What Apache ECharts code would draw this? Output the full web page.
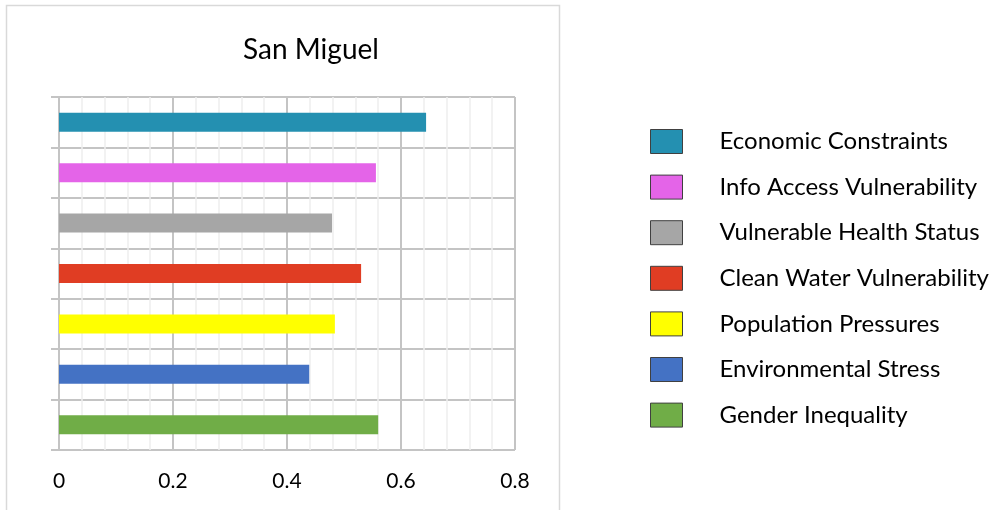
<!DOCTYPE html>
<html>
<head>
<meta charset="utf-8">
<script src="https://cdn.jsdelivr.net/npm/echarts@6/dist/echarts.min.js"></script>
<style>
  html, body { margin: 0; padding: 0; background: #fff; }
  #main { width: 1001px; height: 510px; }
</style>
</head>
<body>
<div id="main"></div>
<script>
// indicators, top to bottom as drawn
var indicators = ['Economic Constraints', 'Info Access Vulnerability', 'Vulnerable Health Status',
  'Clean Water Vulnerability', 'Population Pressures', 'Environmental Stress', 'Gender Inequality'];
var scores = [0.644, 0.556, 0.479, 0.530, 0.484, 0.439, 0.560];
var colors = ['#2490b1', '#e464e8', '#a6a6a6', '#e03d23', '#ffff00', '#4472c4', '#70ad47'];
var xTicks = [0, 0.2, 0.4, 0.6, 0.8];

var font = 'Lato, "Open Sans", sans-serif';
var chart = echarts.init(document.getElementById('main'));

// one series per indicator so each gets its own legend entry; stacked so they share a row
var series = indicators.map(function (name, i) {
  var d = indicators.map(function (_, j) { return j === i ? scores[i] : '-'; });
  return {
    name: name,
    type: 'bar',
    stack: 'all',
    barWidth: 19,
    itemStyle: { color: colors[i] },
    data: d
  };
});

chart.setOption({
  animation: false,
  title: {
    text: 'San Miguel',
    left: 306,
    textAlign: 'center',
    top: 31,
    textStyle: { fontFamily: font, fontSize: 28, fontWeight: 'normal', color: '#000' }
  },
  graphic: [{
    type: 'rect',
    shape: { x: 6.5, y: 5.5, width: 553, height: 530 },
    style: { fill: null, stroke: '#d9d9d9', lineWidth: 1.5 },
    silent: true
  }],
  legend: {
    orient: 'vertical',
    left: 645,
    top: 124,
    itemWidth: 32,
    itemHeight: 24,
    itemGap: 20.6,
    icon: 'rect',
    itemStyle: { borderColor: '#404040', borderWidth: 1 },
    textStyle: { fontFamily: font, fontSize: 24, color: '#000', padding: [0, 0, 0, 32] },
    data: indicators
  },
  grid: {
    left: 59,
    right: 486,
    top: 97,
    bottom: 60,
    outerBoundsMode: 'none'
  },
  xAxis: {
    type: 'value',
    min: xTicks[0],
    max: xTicks[xTicks.length - 1],
    interval: 0.2,
    axisLine: { show: false },
    axisTick: { show: false },
    axisLabel: {
      fontFamily: font, fontSize: 21, color: '#000', margin: 21,
      formatter: function (v) { return xTicks.indexOf(+v.toFixed(1)) >= 0 ? String(+v.toFixed(1)) : ''; }
    },
    splitLine: { show: true, lineStyle: { color: '#c4c4c4', width: 2 } },
    minorTick: { show: false, splitNumber: 5 },
    minorSplitLine: { show: true, lineStyle: { color: '#eeeeee', width: 1.5 } }
  },
  yAxis: {
    type: 'category',
    inverse: true,
    data: indicators,
    axisLine: { show: true, lineStyle: { color: '#c4c4c4', width: 2 } },
    axisTick: { show: true, length: 8, lineStyle: { color: '#c4c4c4', width: 2 } },
    axisLabel: { show: false },
    splitLine: { show: true, interval: 0, lineStyle: { color: '#c4c4c4', width: 2 } }
  },
  series: series
});
</script>
</body>
</html>
